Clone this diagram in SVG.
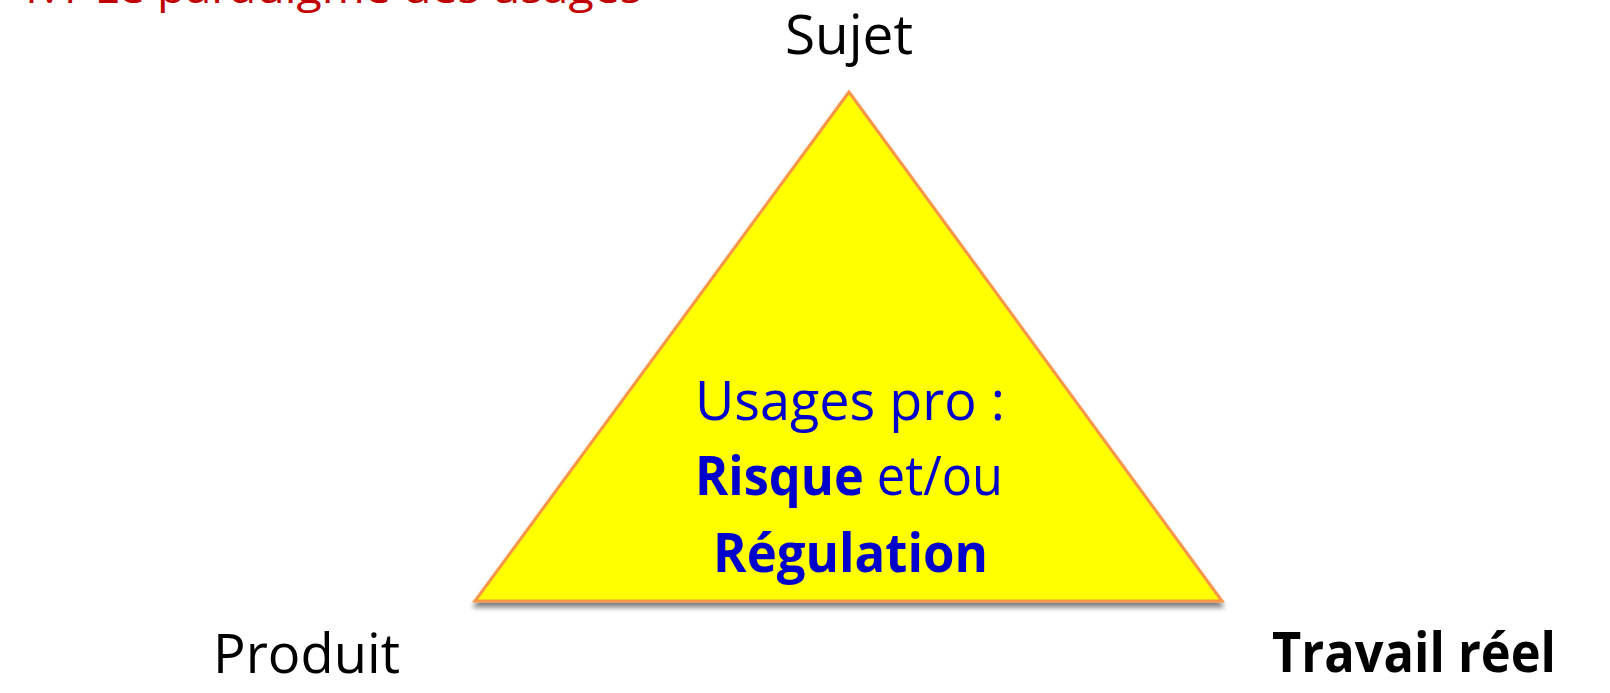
<svg xmlns="http://www.w3.org/2000/svg" width="1610" height="693" viewBox="0 0 1610 693">
  <style>
    .lbl { font-family: "Open Sans", "Liberation Sans", sans-serif; font-size: 55px; fill: #000000; }
    .mid { font-family: "Open Sans", "Liberation Sans", sans-serif; font-size: 54px; fill: #0000CC; }
    .b { font-weight: bold; }
    .title { font-family: "Open Sans", "Liberation Sans", sans-serif; font-size: 42px; fill: #C00000; }
  </style>
  <defs>
    <filter id="shadow" x="-10%" y="-10%" width="120%" height="120%">
      <feGaussianBlur in="SourceAlpha" stdDeviation="2.5"/>
      <feOffset dx="0" dy="5" result="o"/>
      <feComponentTransfer><feFuncA type="linear" slope="0.5"/></feComponentTransfer>
      <feMerge><feMergeNode/><feMergeNode in="SourceGraphic"/></feMerge>
    </filter>
  </defs>
  <rect width="1610" height="693" fill="#FFFFFF"/>
  <text class="title" x="17" y="3" textLength="625" lengthAdjust="spacingAndGlyphs">1.1 Le paradigme des usages</text>
  <g id="triangle">
    <polygon points="849,92 475,601 1222,601" fill="#FFFF00" stroke="#F79646" stroke-width="3" stroke-linejoin="miter" filter="url(#shadow)"/>
    <text class="mid" x="695" y="420" textLength="310" lengthAdjust="spacingAndGlyphs">Usages pro :</text>
    <text class="mid" x="695" y="495" textLength="308" lengthAdjust="spacingAndGlyphs"><tspan class="b">Risque</tspan> et/ou</text>
    <text class="mid b" x="713" y="572" textLength="275" lengthAdjust="spacingAndGlyphs">Régulation</text>
  </g>
  <g id="sujet">
    <text class="lbl" x="785" y="54" textLength="128" lengthAdjust="spacingAndGlyphs">Sujet</text>
  </g>
  <g id="produit">
    <text class="lbl" x="213" y="673" textLength="187" lengthAdjust="spacingAndGlyphs">Produit</text>
  </g>
  <g id="travail">
    <text class="lbl b" x="1272" y="672" textLength="284" lengthAdjust="spacingAndGlyphs">Travail réel</text>
  </g>
  <g id="connectors"></g>
</svg>
